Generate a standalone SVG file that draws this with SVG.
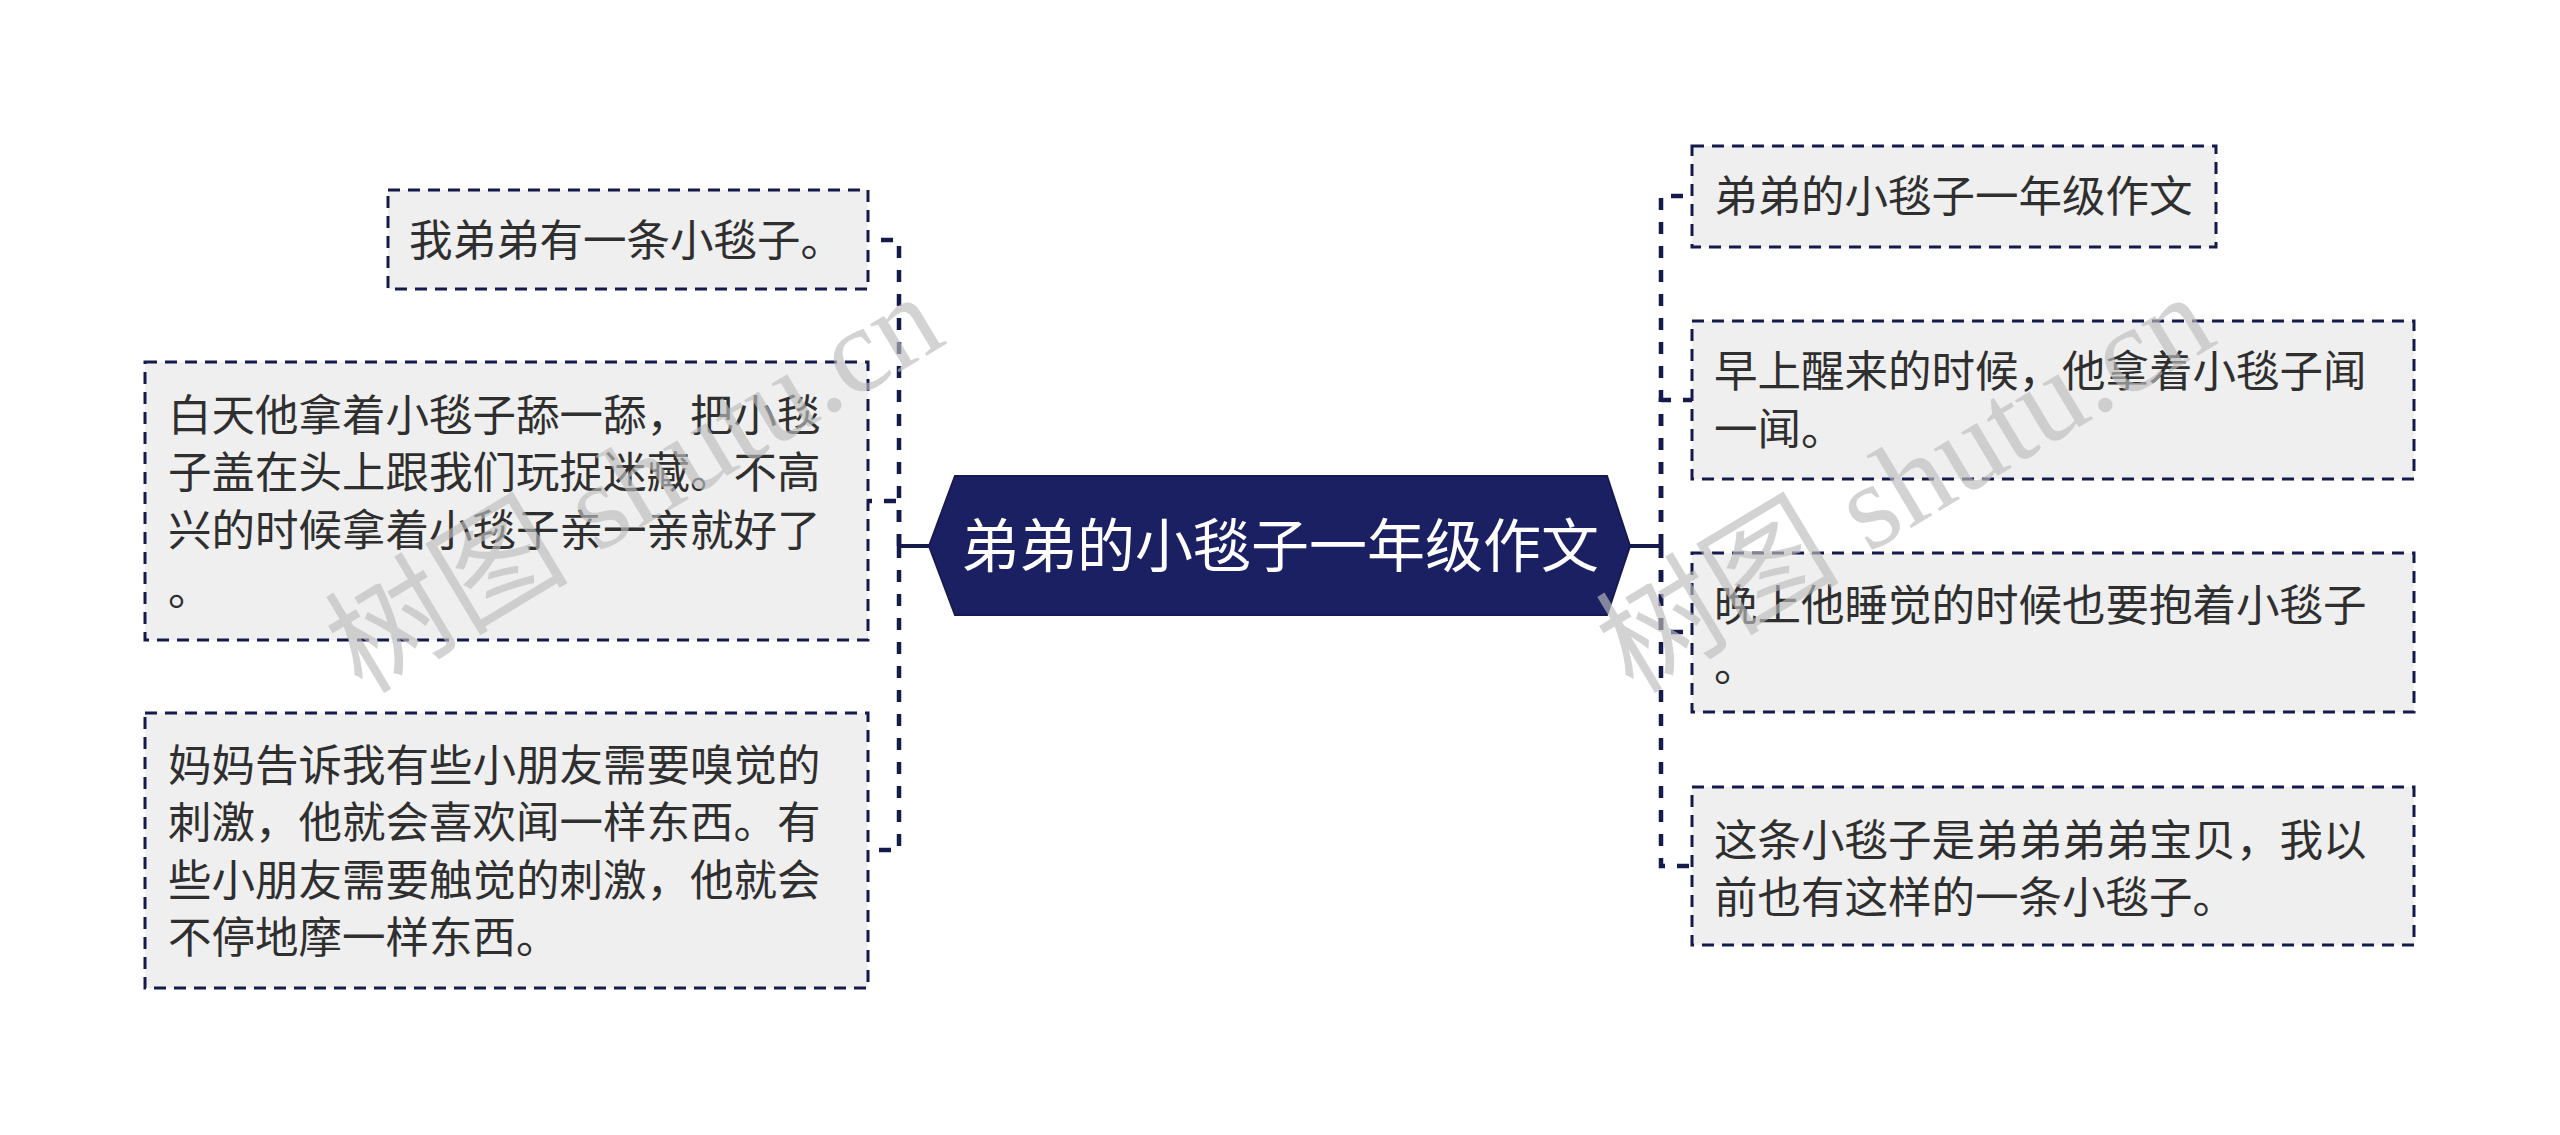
<svg xmlns="http://www.w3.org/2000/svg" width="2560" height="1135" viewBox="0 0 2560 1135">
<style>
.box{fill:#efefef;stroke:#141a4c;stroke-width:3;stroke-dasharray:12 8;}
.t{font-family:"Noto Sans CJK SC","Noto Sans",sans-serif;font-size:43.5px;fill:#2f2f2f;}
.ct{font-family:"Noto Sans CJK SC","Noto Sans",sans-serif;font-size:58px;fill:#ffffff;}
.dash{fill:none;stroke:#141a4c;stroke-width:4.5;stroke-dasharray:12 12;}
.solid{fill:none;stroke:#141a4c;stroke-width:4;}
.wm{font-family:"Liberation Serif","Noto Sans CJK SC",serif;font-size:122px;fill:#bdbdbd;opacity:0.65;}
</style>
<rect width="2560" height="1135" fill="#ffffff"/>
<g id="connectors">
<path class="dash" d="M899,546 V240 H868"/>
<path class="dash" d="M899,546 V501 H868"/>
<path class="dash" d="M899,546 V850 H868"/>
<path class="dash" d="M1661,546 V196 H1692"/>
<path class="dash" d="M1661,546 V400 H1692"/>
<path class="dash" d="M1661,546 V632 H1692"/>
<path class="dash" d="M1661,546 V866 H1692"/>
<path class="solid" d="M930,546 H899 M899,535 V557"/>
<path class="solid" d="M1628,546 H1661 M1661,535 V557"/>
</g>
<g id="center">
<polygon points="929,546 955,476 1607,476 1630,546 1607,615 955,615" fill="#1b2062" stroke="#151a52" stroke-width="2"/>
<text class="ct" x="1280" y="567" text-anchor="middle">弟弟的小毯子一年级作文</text>
</g>
<g id="left1">
<rect class="box" x="388" y="190" width="480" height="99"/>
<text class="t" x="409" y="256">我弟弟有一条小毯子。</text>
</g>
<g id="left2">
<rect class="box" x="145" y="362" width="723" height="278"/>
<text class="t" x="168" y="431">白天他拿着小毯子舔一舔，把小毯</text>
<text class="t" x="168" y="488">子盖在头上跟我们玩捉迷藏。不高</text>
<text class="t" x="168" y="546">兴的时候拿着小毯子亲一亲就好了</text>
<text class="t" x="168" y="605">。</text>
</g>
<g id="left3">
<rect class="box" x="145" y="713" width="723" height="275"/>
<text class="t" x="168" y="781">妈妈告诉我有些小朋友需要嗅觉的</text>
<text class="t" x="168" y="838">刺激，他就会喜欢闻一样东西。有</text>
<text class="t" x="168" y="896">些小朋友需要触觉的刺激，他就会</text>
<text class="t" x="168" y="953">不停地摩一样东西。</text>
</g>
<g id="right1">
<rect class="box" x="1692" y="146" width="524" height="101"/>
<text class="t" x="1714" y="212">弟弟的小毯子一年级作文</text>
</g>
<g id="right2">
<rect class="box" x="1692" y="321" width="722" height="158"/>
<text class="t" x="1714" y="387">早上醒来的时候，他拿着小毯子闻</text>
<text class="t" x="1714" y="445">一闻。</text>
</g>
<g id="right3">
<rect class="box" x="1692" y="553" width="722" height="159"/>
<text class="t" x="1714" y="621">晚上他睡觉的时候也要抱着小毯子</text>
<text class="t" x="1714" y="681">。</text>
</g>
<g id="right4">
<rect class="box" x="1692" y="787" width="722" height="158"/>
<text class="t" x="1714" y="856">这条小毯子是弟弟弟弟宝贝，我以</text>
<text class="t" x="1714" y="913">前也有这样的一条小毯子。</text>
</g>
<g id="watermarks">
<text class="wm" x="362" y="695" transform="rotate(-31 362 695)">树图 shutu.cn</text>
<text class="wm" x="1633" y="695" transform="rotate(-31 1633 695)">树图 shutu.cn</text>
</g>
</svg>
